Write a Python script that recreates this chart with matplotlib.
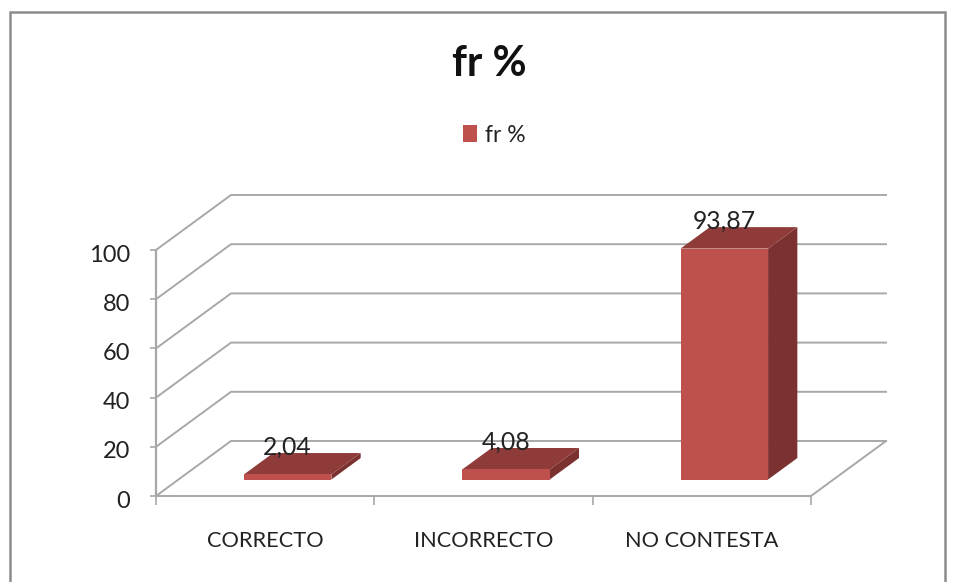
import matplotlib
matplotlib.use("Agg")
import matplotlib.pyplot as plt
from matplotlib.patches import Polygon, Patch, Rectangle
from matplotlib.transforms import ScaledTranslation

categories = ["CORRECTO", "INCORRECTO", "NO CONTESTA"]
values = [2.04, 4.08, 93.87]
value_labels = ["2,04", "4,08", "93,87"]
series_name = "fr %"
yticks = [0, 20, 40, 60, 80, 100]

plt.rcParams["font.family"] = ["Lato", "DejaVu Sans"]
W, H = 956, 582
fig = plt.figure(figsize=(W / 100, H / 100), dpi=100)
L, R, B, T = 156, 811, 496, 250
ax = fig.add_axes([L / W, 1 - B / H, (R - L) / W, (B - T) / H])
ax.set_xlim(0, 3)
ax.set_ylim(0, 100)
ax.patch.set_visible(False)
for s in ax.spines.values():
    s.set_visible(False)

# depth projection expressed in data units
DX = 75 * 3 / (R - L)
DY = 55 * 100 / (B - T)
GRID = "#A8A8A8"
def pr(x, v, d):
    return (x + d * DX, v + d * DY)

# walls and floor
for v in yticks:
    ax.plot(*zip(pr(0, v, 0), pr(0, v, 1), pr(3, v, 1)), color=GRID, lw=1.4, clip_on=False, zorder=1)
ax.plot([0, 0], [0, 100], color=GRID, lw=1.6, zorder=1, clip_on=False)
ax.plot(*zip(pr(0, 0, 0), pr(3, 0, 0), pr(3, 0, 1)), color=GRID, lw=1.4, clip_on=False, zorder=1)

ax.set_yticks(yticks)
ax.set_xticks([0, 1, 2, 3])
ax.set_xticklabels([])
ax.tick_params(axis="y", length=4.5, width=1.2, color=GRID, labelsize=17, pad=14, labelcolor="#222222")
ax.tick_params(axis="x", length=6.5, width=1.2, color=GRID)
shift = ScaledTranslation(0, -2.2 / 72, fig.dpi_scale_trans)
for lab in ax.get_yticklabels():
    lab.set_transform(lab.get_transform() + shift)

# category labels
for i, c in enumerate(categories):
    ax.annotate(c, (i + 0.5, 0), xytext=(0, -25.5), textcoords="offset points", ha="center", va="top",
                fontsize=15.7, color="#222222", annotation_clip=False)

# 3D bars
bw = 87.5 * 3 / (R - L)
d0, d1 = 0.30, 0.69
FRONT, TOP, SIDE = "#BE504D", "#8F3B39", "#7B312F"
for i, v in enumerate(values):
    x0 = i + 0.5 - bw / 2
    x1 = x0 + bw
    ax.add_patch(Polygon([pr(x1, 0, d0), pr(x1, 0, d1), pr(x1, v, d1), pr(x1, v, d0)], fc=SIDE, ec="none", zorder=3, clip_on=False))
    ax.add_patch(Polygon([pr(x0, v, d0), pr(x1, v, d0), pr(x1, v, d1), pr(x0, v, d1)], fc=TOP, ec="none", zorder=3, clip_on=False))
    ax.add_patch(Polygon([pr(x0, 0, d0), pr(x1, 0, d0), pr(x1, v, d0), pr(x0, v, d0)], fc=FRONT, ec="none", zorder=4, clip_on=False))
    ax.annotate(value_labels[i], pr((x0 + x1) / 2, v, d0), xytext=(0, 20), textcoords="offset points",
                ha="center", va="center", fontsize=17.8, color="#222222", zorder=5, annotation_clip=False)

# title, legend, frame
fig.text(489 / W, 1 - 64 / H, series_name, ha="center", va="center", fontsize=30, fontweight="bold", color="#111111")
leg = fig.legend(handles=[Patch(fc=FRONT, ec="none", label=series_name)], loc="center",
                 bbox_to_anchor=(494 / W, 1 - 135 / H), frameon=False, fontsize=16.5,
                 handlelength=0.62, handleheight=0.7, handletextpad=0.35, labelcolor="#222222")
fig.add_artist(Rectangle((9.5 / W, -0.05), 935 / W, 1.05 - 11.5 / H, transform=fig.transFigure,
                         fill=False, ec="#8C8C8C", lw=1.8))
fig.savefig("out.png", dpi=100)
